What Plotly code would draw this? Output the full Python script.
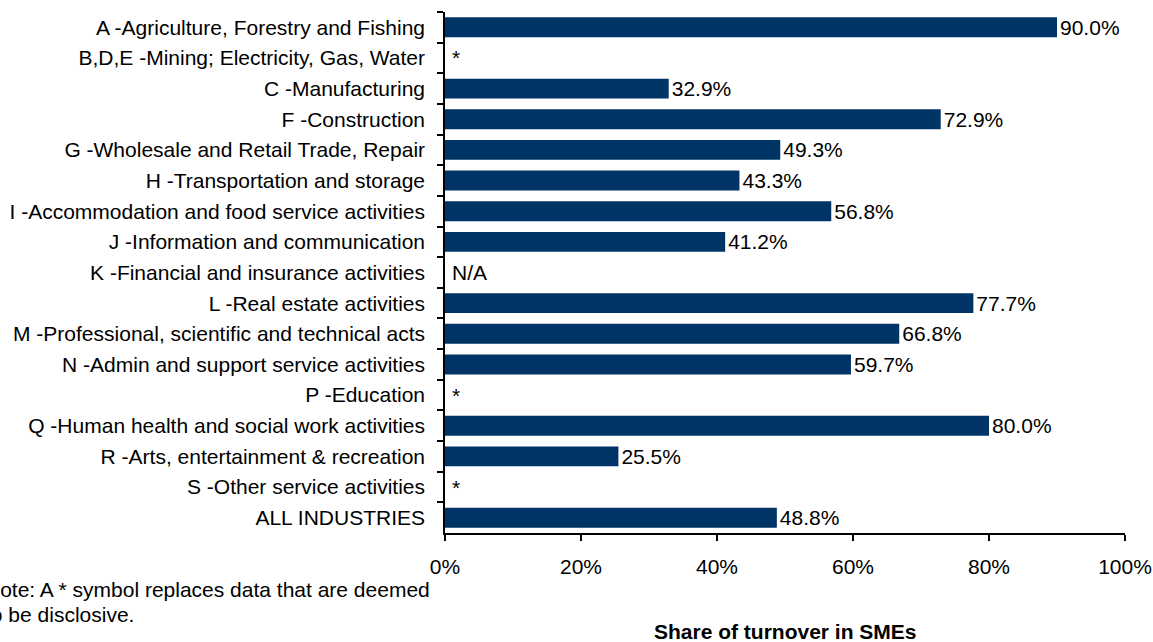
import plotly.graph_objects as go

# Industry sections, top to bottom
categories = [
    "A -Agriculture, Forestry and Fishing",
    "B,D,E -Mining; Electricity, Gas, Water",
    "C -Manufacturing",
    "F -Construction",
    "G -Wholesale and Retail Trade, Repair",
    "H -Transportation and storage",
    "I -Accommodation and food service activities",
    "J -Information and communication",
    "K -Financial and insurance activities",
    "L -Real estate activities",
    "M -Professional, scientific and technical acts",
    "N -Admin and support service activities",
    "P -Education",
    "Q -Human health and social work activities",
    "R -Arts, entertainment & recreation",
    "S -Other service activities",
    "ALL INDUSTRIES",
]

# Share of turnover in SMEs (%); None where the value is suppressed or not applicable
sme_share = [90.0, None, 32.9, 72.9, 49.3, 43.3, 56.8, 41.2, None,
             77.7, 66.8, 59.7, None, 80.0, 25.5, None, 48.8]

# Marker text shown in place of missing values
missing_marks = ["", "*", "", "", "", "", "", "", "N/A",
                 "", "", "", "*", "", "", "*", ""]

x_ticks = [0, 20, 40, 60, 80, 100]
x_tick_labels = ["0%", "20%", "40%", "60%", "80%", "100%"]

note_lines = ["Note: A * symbol replaces data that are deemed",
              "to be disclosive."]
x_title = "Share of turnover in SMEs"

FONT = "Liberation Sans, Arial, sans-serif"
FS = 21
BAR_COLOR = "#003366"

bar_text = [f"{v:.1f}%" if v is not None else "" for v in sme_share]

fig = go.Figure(
    go.Bar(
        x=sme_share,
        y=categories,
        orientation="h",
        marker=dict(color=BAR_COLOR, line=dict(width=0)),
        text=bar_text,
        textposition="outside",
        constraintext="none",
        textfont=dict(family=FONT, size=FS, color="#000000"),
        cliponaxis=False,
        hoverinfo="skip",
    )
)

annotations = []
for cat, mark in zip(categories, missing_marks):
    if mark:
        annotations.append(dict(
            x=0, y=cat, xref="x", yref="y", text=mark, showarrow=False,
            xanchor="left", yanchor="middle", xshift=5,
            font=dict(family=FONT, size=FS, color="#000000"),
        ))

# Footnote, two lines below the category labels
for line, ypos in zip(note_lines, [-0.1094, -0.1555]):
    annotations.append(dict(
        x=-0.679, y=ypos, xref="paper", yref="paper", text=line,
        showarrow=False, xanchor="left", yanchor="middle", align="left",
        font=dict(family=FONT, size=FS, color="#000000"),
    ))

# Axis title
annotations.append(dict(
    x=0.5, y=-0.19, xref="paper", yref="paper", text=f"<b>{x_title}</b>",
    showarrow=False, xanchor="center", yanchor="middle",
    font=dict(family=FONT, size=FS, color="#000000"),
))

fig.update_layout(
    width=1153, height=642,
    margin=dict(l=445, r=28, t=12, b=109),
    paper_bgcolor="white", plot_bgcolor="white",
    bargap=0.35,
    showlegend=False,
    font=dict(family=FONT, size=FS, color="#000000"),
    annotations=annotations,
    xaxis=dict(
        range=[0, 100], tickvals=x_ticks, ticktext=x_tick_labels,
        showgrid=False, zeroline=False, automargin=False,
        showline=True, linecolor="#000000", linewidth=1.5,
        ticks="outside", ticklen=6, tickcolor="#000000", tickwidth=1.5,
        ticklabelstandoff=8,
        tickfont=dict(family=FONT, size=FS, color="#000000"),
    ),
    yaxis=dict(
        autorange="reversed", showgrid=False, zeroline=False, automargin=False,
        showline=True, linecolor="#000000", linewidth=1.5,
        ticks="outside", ticklen=6, tickcolor="#000000", tickwidth=1.5,
        tickson="boundaries", ticklabelstandoff=14,
        tickfont=dict(family=FONT, size=FS, color="#000000"),
    ),
)

fig.write_html("out.html")
